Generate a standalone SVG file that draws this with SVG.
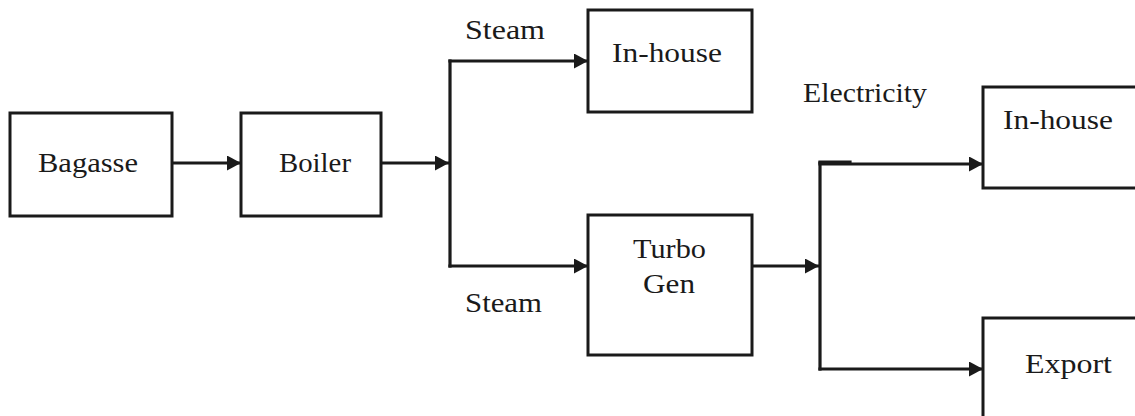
<svg xmlns="http://www.w3.org/2000/svg" width="1135" height="416" viewBox="0 0 1135 416">
<style>
.box{fill:#fff;stroke:#1a1a1a;stroke-width:3}
.ln{fill:none;stroke:#1a1a1a;stroke-width:3.2;stroke-linejoin:miter;stroke-linecap:square}
.ar{marker-end:url(#ah)}
text{font-family:"Liberation Serif","Times New Roman",serif;font-size:27px;fill:#1a1a1a}
</style>
<defs>
<marker id="ah" viewBox="0 0 14 15" refX="14" refY="7.5" markerWidth="14" markerHeight="15" markerUnits="userSpaceOnUse" orient="auto">
<path d="M0,0 L14,7.5 L0,15 Z" fill="#1a1a1a"/>
</marker>
</defs>
<g id="connectors">
<line class="ln ar" x1="172" y1="163" x2="241" y2="163"/>
<line class="ln ar" x1="381" y1="163" x2="449" y2="163"/>
<path class="ln" d="M450,61 L450,266"/>
<line class="ln ar" x1="450" y1="61" x2="588" y2="61"/>
<line class="ln ar" x1="450" y1="266" x2="588" y2="266"/>
<line class="ln ar" x1="752" y1="266" x2="819" y2="266"/>
<path class="ln" d="M820,163 L820,369"/>
<line class="ln" x1="820" y1="162" x2="850" y2="162"/>
<line class="ln ar" x1="820" y1="164" x2="983" y2="164"/>
<line class="ln ar" x1="820" y1="369" x2="983" y2="369"/>
<text x="465" y="39" textLength="80" lengthAdjust="spacingAndGlyphs">Steam</text>
<text x="465" y="312" textLength="77" lengthAdjust="spacingAndGlyphs">Steam</text>
<text x="803" y="102" textLength="124" lengthAdjust="spacingAndGlyphs">Electricity</text>
</g>
<g id="bagasse">
<rect class="box" x="10" y="113" width="162" height="103"/>
<text x="38" y="172" textLength="100" lengthAdjust="spacingAndGlyphs">Bagasse</text>
</g>
<g id="boiler">
<rect class="box" x="241" y="113" width="140" height="103"/>
<text x="279" y="172" textLength="72" lengthAdjust="spacingAndGlyphs">Boiler</text>
</g>
<g id="inhouse-steam">
<rect class="box" x="588" y="10" width="164" height="102"/>
<text x="612" y="62" textLength="110" lengthAdjust="spacingAndGlyphs">In-house</text>
</g>
<g id="turbogen">
<rect class="box" x="588" y="215" width="164" height="140"/>
<text x="633" y="258" textLength="73" lengthAdjust="spacingAndGlyphs">Turbo</text>
<text x="643" y="293" textLength="52" lengthAdjust="spacingAndGlyphs">Gen</text>
</g>
<g id="inhouse-elec">
<rect class="box" x="983" y="87" width="170" height="101"/>
<text x="1003" y="129" textLength="110" lengthAdjust="spacingAndGlyphs">In-house</text>
</g>
<g id="export">
<rect class="box" x="983" y="318" width="170" height="120"/>
<text x="1025" y="373" textLength="87" lengthAdjust="spacingAndGlyphs">Export</text>
</g>
</svg>
